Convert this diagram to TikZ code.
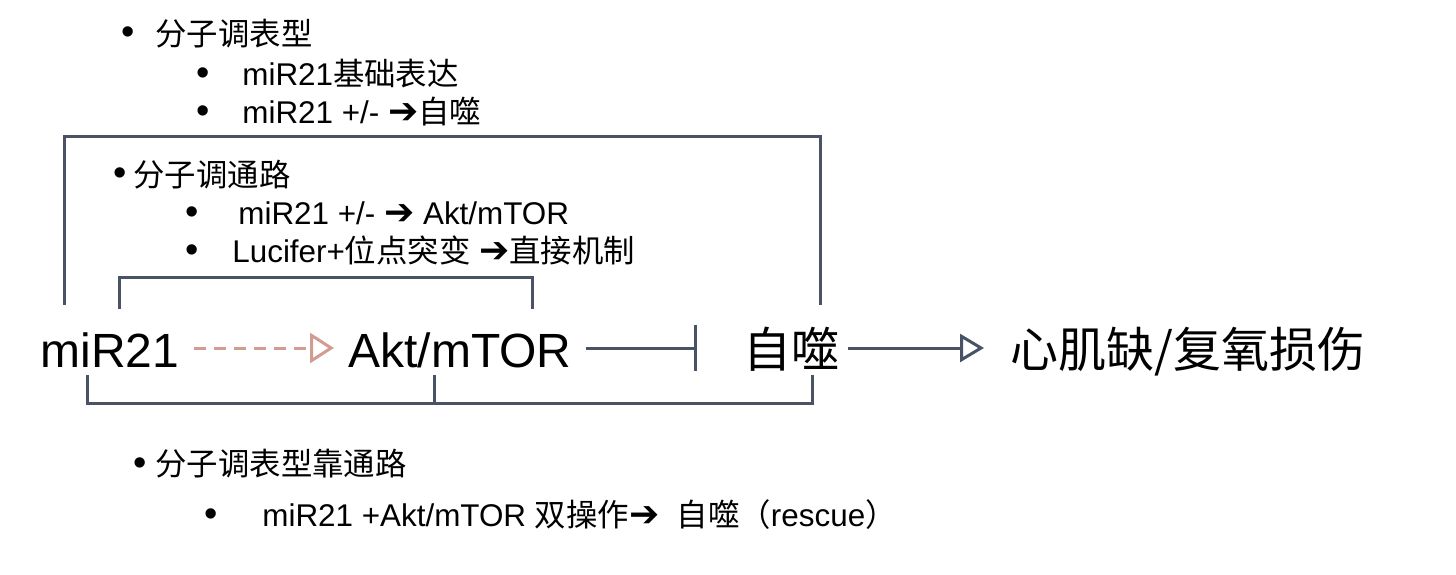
\documentclass[tikz,border=0pt]{standalone}
\usepackage{fontspec}
\setmainfont{Liberation Sans}
\newfontfamily\cjk{Noto Sans CJK SC}
\newfontfamily\symb{DejaVu Sans}
\usetikzlibrary{arrows.meta}
\definecolor{lineslate}{HTML}{4A5366}
\definecolor{dashrose}{HTML}{D29C92}
\newcommand{\zh}[1]{{\cjk #1}}
\newcommand{\arr}{{\symb\scalebox{1.15}{\char"2794}}}
\tikzset{
  mainlbl/.style={anchor=base west, inner xsep=7pt, inner ysep=0pt,
    text height=19pt, text depth=0pt, font=\fontsize{24}{28}\selectfont},
  bultext/.style={anchor=base west, inner sep=0pt, font=\fontsize{15.7}{19}\selectfont},
  buldot/.style={inner sep=0pt, font=\fontsize{19}{19}\selectfont},
  brk/.style={draw=lineslate, line width=1.5pt},
  dasharr/.style={draw=dashrose, line width=1.5pt, dash pattern=on 6pt off 4pt,
    -{Triangle[open, length=12pt, width=15pt, line width=1.5pt]}},
  solarr/.style={draw=lineslate, line width=1.5pt,
    -{Triangle[open, length=12pt, width=14pt, line width=1.5pt]}},
  inharr/.style={draw=lineslate, line width=1.5pt, -{Bar[width=23pt, line width=1.5pt]}},
}
\begin{document}
\begin{tikzpicture}[x=0.5pt, y=-0.5pt]
\useasboundingbox (0,0) rectangle (1456,574);
% main row
\node[mainlbl] (mir) at (26,367) {miR21};
\node[mainlbl] (akt) at (334,367) {Akt/mTOR};
\node[mainlbl] (zs) at (729,367) {\zh{自噬}};
\node[mainlbl] (xj) at (996,367) {\zh{心肌缺/复氧损伤}};
\draw[dasharr] (mir) -- (akt);
\draw[inharr, shorten >=16pt] (akt) -- (zs);
\draw[solarr, shorten <=-3pt, shorten >=6pt] (zs) -- (xj);
% top bracket
\coordinate (oL) at (64,305);
\coordinate (oT) at (820,136);
\coordinate (oR) at (820,305);
\draw[brk] (oL) |- (oT) -- (oR);
% inner bracket
\coordinate (iL) at (119,309);
\coordinate (iT) at (532,277);
\coordinate (iR) at (532,309);
\draw[brk] (iL) |- (iT) -- (iR);
% bottom bracket
\coordinate (uL) at (87,375);
\coordinate (uB) at (812,403);
\coordinate (uR) at (812,375);
\coordinate (uM) at (434,375);
\coordinate (uMB) at (434,403);
\draw[brk] (uL) |- (uB) -- (uR);
\draw[brk] (uM) -- (uMB);
% phenotype notes
\node[buldot] (d1) at (128,36) {\textbullet};
\node[bultext] (t1) at (155,45) {\zh{分子调表型}};
\node[buldot] (d2) at (203,77) {\textbullet};
\node[bultext] (t2) at (242,85) {miR21\zh{基础表达}};
\node[buldot] (d3) at (203,115) {\textbullet};
\node[bultext] (t3) at (242,123) {miR21 +/- \arr\zh{自噬}};
% pathway notes
\node[buldot] (d4) at (120,177) {\textbullet};
\node[bultext] (t4) at (133,186) {\zh{分子调通路}};
\node[buldot] (d5) at (192,216) {\textbullet};
\node[bultext] (t5) at (238,224) {miR21 +/- \arr{} Akt/mTOR};
\node[buldot] (d6) at (192,254) {\textbullet};
\node[bultext] (t6) at (232,262) {Lucifer+\zh{位点突变} \arr\zh{直接机制}};
% rescue notes
\node[buldot] (d7) at (140,467) {\textbullet};
\node[bultext] (t7) at (155,475) {\zh{分子调表型靠通路}};
\node[buldot] (d8) at (211,518) {\textbullet};
\node[bultext] (t8) at (262,526) {miR21 +Akt/mTOR \zh{双操作}\arr\ \ \zh{自噬（}rescue\zh{）}};
\end{tikzpicture}
\end{document}
